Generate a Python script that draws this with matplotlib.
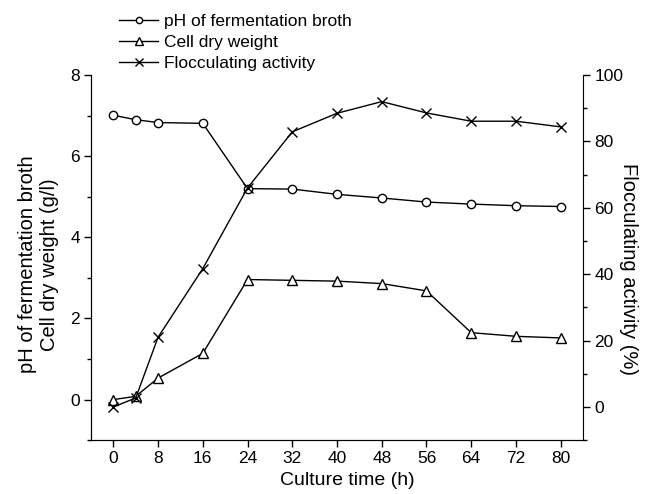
import matplotlib
matplotlib.use('Agg')
import matplotlib.pyplot as plt
from matplotlib.ticker import MultipleLocator

plt.rcParams['font.family'] = ['Liberation Sans', 'DejaVu Sans']

#===Data===#
TIME = [0, 4, 8, 16, 24, 32, 40, 48, 56, 64, 72, 80]  # [h]
PH = [7.01, 6.90, 6.83, 6.81, 5.20, 5.19, 5.06, 4.97, 4.87, 4.82, 4.78, 4.76]
CDW = [0.0, 0.08, 0.53, 1.14, 2.96, 2.94, 2.92, 2.86, 2.68, 1.65, 1.56, 1.52]  # [g/l]
FLOC = [0.0, 2.7, 21.0, 41.7, 66.0, 82.9, 88.5, 92.0, 88.6, 86.1, 86.1, 84.4]  # [%]
X_TICKS = [0, 8, 16, 24, 32, 40, 48, 56, 64, 72, 80]

fig = plt.figure(figsize=(6.45, 4.94), dpi=100)
ax = fig.add_axes([0.141, 0.109, 0.763, 0.739])
ax2 = ax.twinx()

mk = dict(color='black', lw=1.0, mfc='white', mec='black', mew=1.0)
l1, = ax.plot(TIME, PH, marker='o', ms=6, label='pH of fermentation broth', **mk)
l2, = ax.plot(TIME, CDW, marker='^', ms=7, label='Cell dry weight', **mk)
l3, = ax2.plot(TIME, FLOC, marker='x', ms=7, label='Flocculating activity', **mk)

ax.set_xlim(-4, 84)
ax.set_ylim(-1, 8)
ax2.set_ylim(-10, 100)
ax.set_xticks(X_TICKS)
ax.yaxis.set_major_locator(MultipleLocator(2))
ax.yaxis.set_minor_locator(MultipleLocator(1))
ax2.yaxis.set_major_locator(MultipleLocator(20))
ax2.yaxis.set_minor_locator(MultipleLocator(10))

for a in (ax, ax2):
    a.spines['top'].set_visible(False)
    a.tick_params(which='both', direction='out', labelsize=12.5, width=1.0, pad=3)
    a.tick_params(which='major', length=5)
    a.tick_params(which='minor', length=3)
ax.spines['right'].set_visible(False)

ax.set_xlabel('Culture time (h)', fontsize=14, labelpad=4)
ax.set_ylabel('pH of fermentation broth\nCell dry weight (g/l)', fontsize=14.5, labelpad=8)
ax2.set_ylabel('Flocculating activity (%)', fontsize=14.5, rotation=270, labelpad=11)
ax.xaxis.label.set_x(0.52)
ax.yaxis.label.set_y(0.482)
ax2.yaxis.label.set_y(0.47)

fig.legend(handles=[l1, l2, l3], loc='upper left', bbox_to_anchor=(0.171, 0.99),
           frameon=False, fontsize=12.5, handlelength=2.25, handletextpad=0.35,
           labelspacing=0.35, markerscale=0.75, borderaxespad=0.1)

fig.savefig('out.png', dpi=100)
